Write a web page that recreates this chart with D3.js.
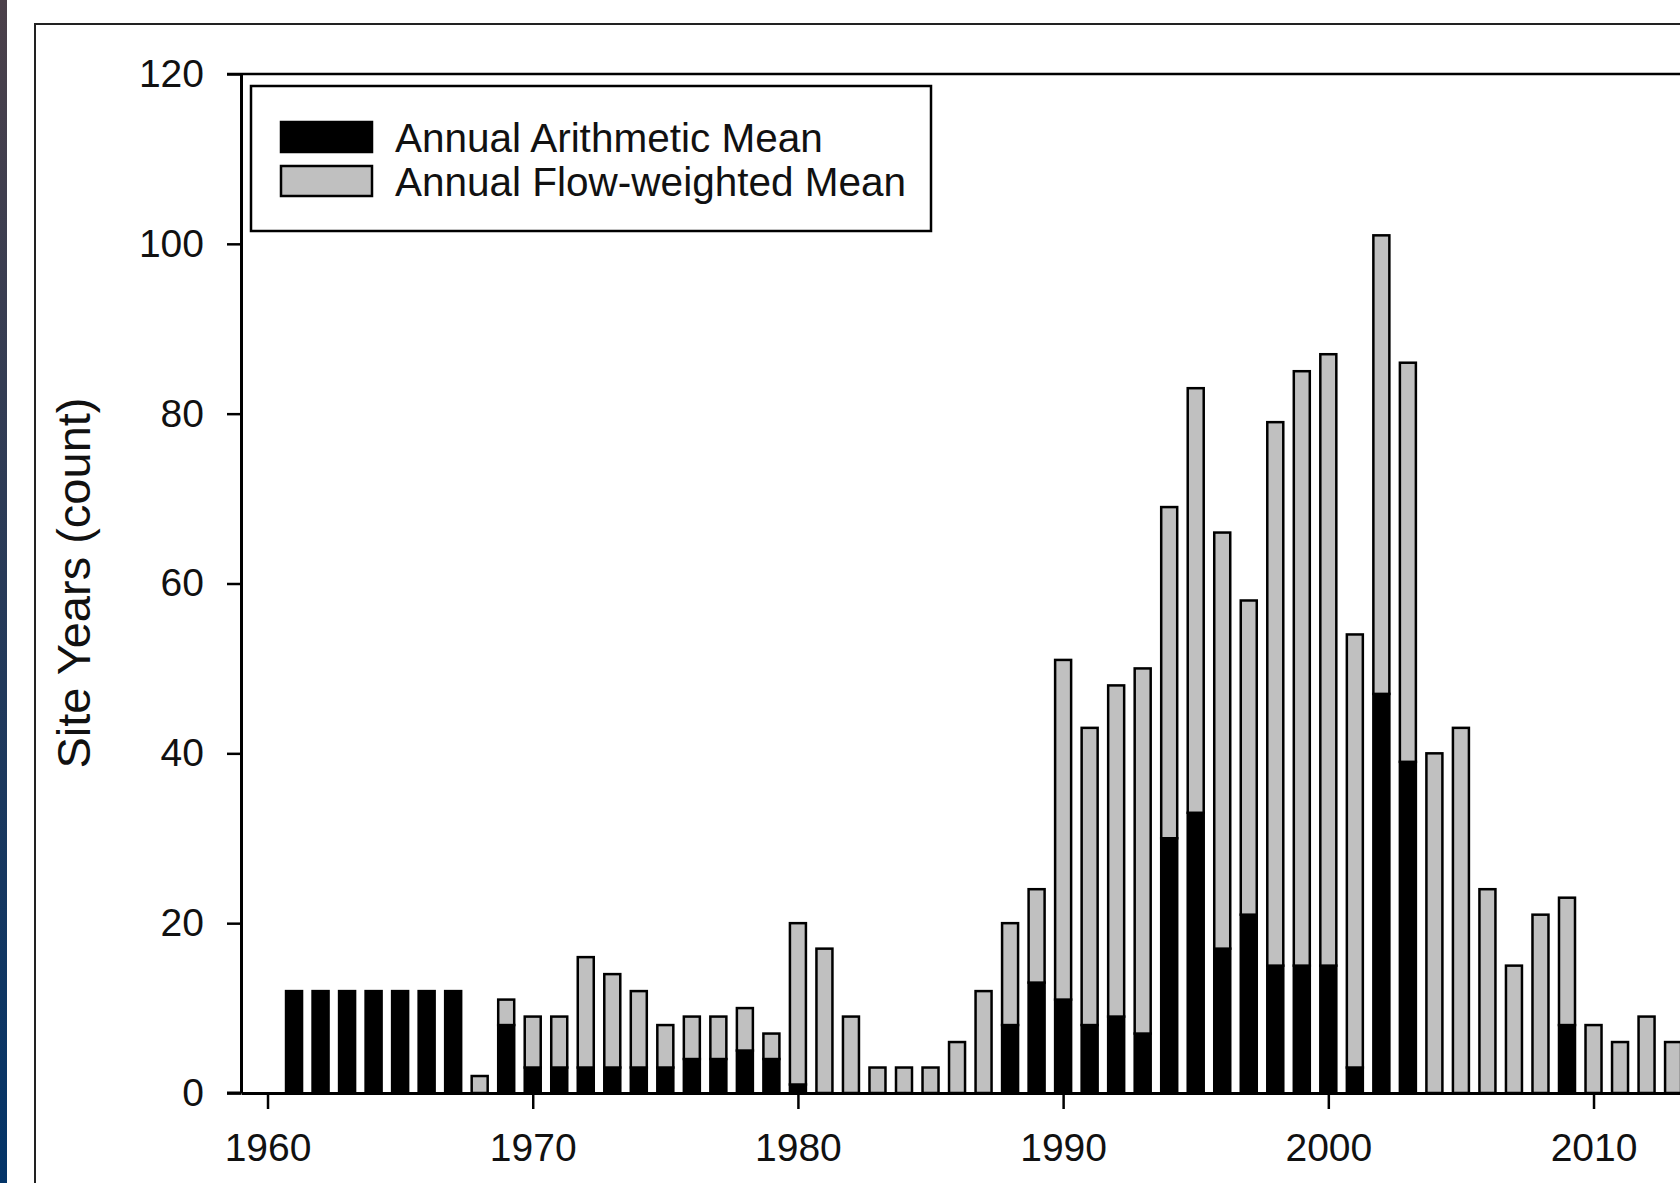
<!DOCTYPE html>
<html>
<head>
<meta charset="utf-8">
<script src="https://cdn.jsdelivr.net/npm/d3@7"></script>
<style>
  body { margin: 0; background: #fff; overflow: hidden; }
  text { font-family: "Liberation Sans", Arial, sans-serif; fill: #111; }
</style>
</head>
<body>
<div id="container"></div>
<script>
/* CONSTANTS AND GLOBALS */
const width = 1680;
const height = 1183;

/* DATA */
const years = [1961, 1962, 1963, 1964, 1965, 1966, 1967, 1968, 1969, 1970,
  1971, 1972, 1973, 1974, 1975, 1976, 1977, 1978, 1979, 1980,
  1981, 1982, 1983, 1984, 1985, 1986, 1987, 1988, 1989, 1990,
  1991, 1992, 1993, 1994, 1995, 1996, 1997, 1998, 1999, 2000,
  2001, 2002, 2003, 2004, 2005, 2006, 2007, 2008, 2009, 2010,
  2011, 2012, 2013];
// black part of each bar
const arithmeticMean = [12, 12, 12, 12, 12, 12, 12, 0, 8, 3,
  3, 3, 3, 3, 3, 4, 4, 5, 4, 1,
  0, 0, 0, 0, 0, 0, 0, 8, 13, 11,
  8, 9, 7, 30, 33, 17, 21, 15, 15, 15,
  3, 47, 39, 0, 0, 0, 0, 0, 8, 0,
  0, 0, 0];
// grey part stacked on top
const flowWeightedMean = [0, 0, 0, 0, 0, 0, 0, 2, 3, 6,
  6, 13, 11, 9, 5, 5, 5, 5, 3, 19,
  17, 9, 3, 3, 3, 6, 12, 12, 11, 40,
  35, 39, 43, 39, 50, 49, 37, 64, 70, 72,
  51, 54, 47, 40, 43, 24, 15, 21, 15, 8,
  6, 9, 6];
const xTicks = [1960, 1970, 1980, 1990, 2000, 2010];
const yTicks = [0, 20, 40, 60, 80, 100, 120];
const seriesNames = ["Annual Arithmetic Mean", "Annual Flow-weighted Mean"];
const seriesColors = ["#000000", "#c0c0c0"];

const data = years.map((y, i) => ({ year: y, arith: arithmeticMean[i], flow: flowWeightedMean[i] }));

/* SCALES */
const xScale = d3.scaleLinear()
  .domain([1959, 2016])
  .range([241, 241 + 57 * 26.52]);

const yScale = d3.scaleLinear()
  .domain([0, 120])
  .range([1093, 74]);

const color = d3.scaleOrdinal().domain(["arith", "flow"]).range(seriesColors);
const barW = 16;

/* HTML ELEMENTS */
const svg = d3.select("#container")
  .append("svg")
  .attr("width", width)
  .attr("height", height)
  .style("background-color", "#fff");

// slide edge on the left
const grad = svg.append("defs").append("linearGradient")
  .attr("id", "edge").attr("x1", 0).attr("y1", 0).attr("x2", 0).attr("y2", 1);
grad.append("stop").attr("offset", "0%").attr("stop-color", "#4b4049");
grad.append("stop").attr("offset", "100%").attr("stop-color", "#033468");
svg.append("rect").attr("x", 0).attr("y", 0).attr("width", 7).attr("height", height)
  .attr("fill", "url(#edge)");

// outer frame of the graph page
svg.append("path")
  .attr("d", "M35," + height + "V24H" + width)
  .attr("fill", "none").attr("stroke", "#222").attr("stroke-width", 2);

// top + right frame of plot
svg.append("line")
  .attr("x1", xScale.range()[0] - 14).attr("x2", xScale.range()[1])
  .attr("y1", yScale(120)).attr("y2", yScale(120))
  .attr("stroke", "#000").attr("stroke-width", 2.5);
svg.append("line")
  .attr("x1", xScale.range()[1]).attr("x2", xScale.range()[1])
  .attr("y1", yScale(120)).attr("y2", yScale(0))
  .attr("stroke", "#000").attr("stroke-width", 2.5);

// stacked bars
const stacked = d3.stack().keys(["arith", "flow"])(data);

svg.selectAll("g.layer")
  .data(stacked)
  .join("g")
  .attr("class", "layer")
  .attr("fill", d => color(d.key))
  .selectAll("rect")
  .data(d => d.filter(s => s[1] > s[0]))
  .join("rect")
  .attr("x", d => xScale(d.data.year) - barW / 2)
  .attr("y", d => yScale(d[1]))
  .attr("width", barW)
  .attr("height", d => yScale(d[0]) - yScale(d[1]))
  .attr("stroke", "#000")
  .attr("stroke-width", 2.5);

// axes
const xAxis = svg.append("g")
  .attr("transform", `translate(0,${yScale(0)})`)
  .call(d3.axisBottom(xScale).tickValues(xTicks).tickFormat(d3.format("d"))
    .tickSize(16).tickSizeOuter(0).tickPadding(24));
xAxis.select(".domain").attr("stroke-width", 3);
xAxis.selectAll(".tick line").attr("stroke-width", 2.5);
xAxis.selectAll("text").style("font-size", "39px").attr("fill", "#111");
// x axis line runs out to the left to meet the zero tick
svg.append("line")
  .attr("x1", xScale.range()[0] - 14).attr("x2", xScale.range()[0])
  .attr("y1", yScale(0)).attr("y2", yScale(0))
  .attr("stroke", "#000").attr("stroke-width", 3);

const yAxis = svg.append("g")
  .attr("transform", `translate(${xScale.range()[0]},0)`)
  .call(d3.axisLeft(yScale).tickValues(yTicks).tickSize(14).tickSizeOuter(0).tickPadding(23));
yAxis.select(".domain").attr("stroke-width", 3);
yAxis.selectAll(".tick line").attr("stroke-width", 2.5);
yAxis.selectAll("text").style("font-size", "39px").attr("fill", "#111");

// y label
svg.append("text")
  .attr("transform", "translate(90,583) rotate(-90)")
  .attr("text-anchor", "middle")
  .style("font-size", "47px")
  .text("Site Years (count)");

// legend
const legend = svg.append("g");
legend.append("rect")
  .attr("x", 251).attr("y", 86).attr("width", 680).attr("height", 145)
  .attr("fill", "#fff").attr("stroke", "#000").attr("stroke-width", 2.5);
const items = legend.selectAll("g.item")
  .data(seriesNames)
  .join("g")
  .attr("class", "item")
  .attr("transform", (d, i) => `translate(281,${122 + i * 44})`);
items.append("rect")
  .attr("width", 91).attr("height", 30)
  .attr("fill", (d, i) => seriesColors[i])
  .attr("stroke", "#000").attr("stroke-width", 2.5);
items.append("text")
  .attr("x", 114).attr("y", 15).attr("dy", "0.36em")
  .style("font-size", "40.5px")
  .text(d => d);
</script>
</body>
</html>
